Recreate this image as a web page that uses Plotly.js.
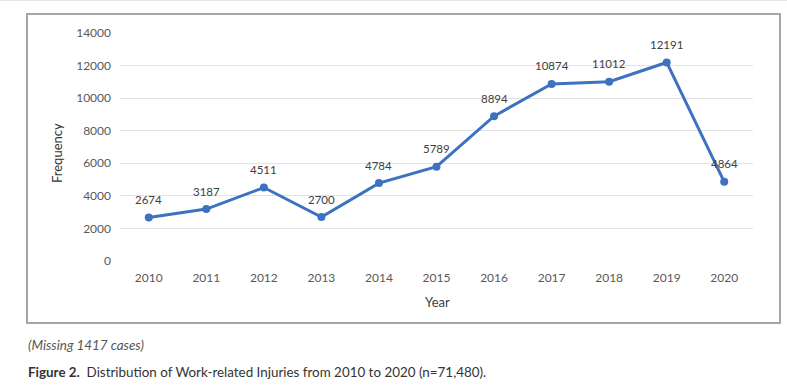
<!DOCTYPE html>
<html>
<head>
<meta charset="utf-8">
<script src="https://cdn.plot.ly/plotly-3.0.1.min.js"></script>
<style>html,body{margin:0;padding:0;background:#fff;}#chart{width:787px;height:386px;}</style>
</head>
<body>
<div id="chart"></div>
<script>
const years = ["2010","2011","2012","2013","2014","2015","2016","2017","2018","2019","2020"];
const frequency = [2674, 3187, 4511, 2700, 4784, 5789, 8894, 10874, 11012, 12191, 4864];
const yTicks = [0, 2000, 4000, 6000, 8000, 10000, 12000, 14000];

const W = 787, H = 386;
const L = 120, R = 34, T = 33, B = 125;
const pw = W - L - R, ph = H - T - B;
const px = x => (x - L) / pw;
const py = y => (H - B - y) / ph;

const trace = {
  x: years, y: frequency, type: 'scatter', mode: 'lines+markers',
  line: {color: '#3d72c0', width: 3},
  marker: {color: '#3d72c0', size: 8},
  cliponaxis: false, hoverinfo: 'skip'
};

const dataLabels = years.map((yr, i) => ({
  x: i, y: frequency[i], xref: 'x', yref: 'y', text: String(frequency[i]),
  showarrow: false, yshift: 18, xanchor: 'center', yanchor: 'middle',
  font: {family: 'Lato', size: 11.5, color: '#404040'}
}));

const layout = {
  width: W, height: H,
  margin: {l: L, r: R, t: T, b: B, pad: 0},
  paper_bgcolor: '#fff', plot_bgcolor: '#fff',
  showlegend: false,
  font: {family: 'Lato', size: 12, color: '#595959'},
  xaxis: {type: 'category', range: [-0.5, years.length - 0.5], showgrid: false, zeroline: false, showline: false,
          ticks: '', ticklabelstandoff: 8, tickfont: {family: 'Lato', size: 12, color: '#595959'}},
  yaxis: {range: [0, 14000], tickvals: yTicks, ticktext: yTicks.map(String), showgrid: true, gridcolor: '#e3e3e3', gridwidth: 1,
          zeroline: false, showline: false, ticks: '', ticklabelstandoff: 8,
          tickfont: {family: 'Lato', size: 12, color: '#595959'}},
  shapes: [
    {type: 'rect', xref: 'paper', yref: 'paper', x0: px(27), x1: px(780), y0: py(323), y1: py(14),
     line: {color: '#a6a6a6', width: 2}, fillcolor: 'rgba(0,0,0,0)'},
    {type: 'line', xref: 'paper', yref: 'paper', x0: px(0), x1: px(787), y0: py(0.5), y1: py(0.5),
     line: {color: '#e6e6e6', width: 1}}
  ],
  annotations: dataLabels.concat([
    {text: 'Frequency', xref: 'paper', yref: 'paper', x: px(57), y: py(153), textangle: -90,
     showarrow: false, font: {family: 'Lato', size: 13, color: '#333'}, xanchor: 'center', yanchor: 'middle'},
    {text: 'Year', xref: 'paper', yref: 'paper', x: px(437), y: py(302),
     showarrow: false, font: {family: 'Lato', size: 13, color: '#404040'}, xanchor: 'center', yanchor: 'middle'},
    {text: '<i>(Missing 1417 cases)</i>', xref: 'paper', yref: 'paper', x: px(26), y: py(345),
     showarrow: false, font: {family: 'Lato', size: 13.4, color: '#555'}, xanchor: 'left', yanchor: 'middle'},
    {text: '<b>Figure 2.</b>  Distribution of Work-related Injuries from 2010 to 2020 (n=71,480).', xref: 'paper', yref: 'paper', x: px(26), y: py(372),
     showarrow: false, font: {family: 'Lato', size: 13.4, color: '#333'}, xanchor: 'left', yanchor: 'middle'}
  ])
};

Plotly.newPlot('chart', [trace], layout, {displayModeBar: false, staticPlot: true});
</script>
</body>
</html>
